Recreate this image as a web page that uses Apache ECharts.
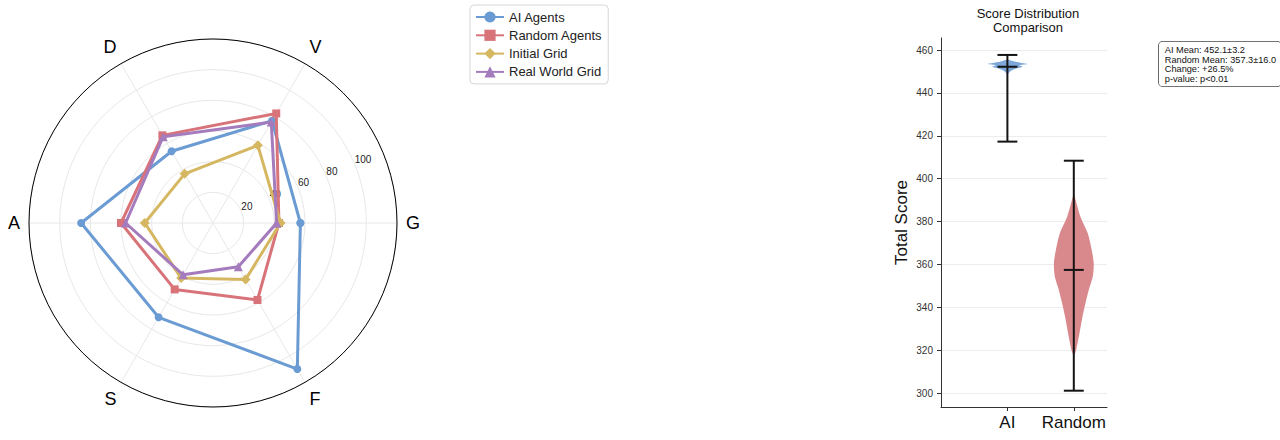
<!DOCTYPE html>
<html>
<head>
<meta charset="utf-8">
<script src="https://cdn.jsdelivr.net/npm/echarts@6/dist/echarts.min.js"></script>
<style>
  html, body { margin: 0; padding: 0; background: #fff; }
  #chart { width: 1280px; height: 440px; }
</style>
</head>
<body>
<div id="chart"></div>
<script>
// ---------------- Data ----------------
const radarCategories = ['G', 'V', 'D', 'A', 'S', 'F'];
const aiAgents      = [57, 77, 54, 86, 71, 110];
const randomAgents  = [43, 82.5, 66, 60, 50, 58];
const initialGrid   = [44, 58.5, 37, 44.5, 41.5, 42.5];
const realWorldGrid = [41.5, 76, 65, 57, 39, 33];
const radialTickLabels = [20, 40, 60, 80, 100];

const violinCategories = ['AI', 'Random'];
const violinPositions  = [1, 2];
const violinMin  = [417.3, 301.2];
const violinMax  = [457.7, 408.4];
const violinMean = [452.2, 357.5];

const aiDensityScores    = [455.7, 454.9, 454.1, 453.5, 452.9, 452.2, 451.3, 450.4, 449.1, 448.3];
const aiDensityHalfWidth = [0, 0.075, 0.196, 0.30, 0.176, 0.226, 0.125, 0.06, 0.015, 0];
const randomDensityScores    = [393.2, 382.3, 374.6, 366.8, 360.6, 354.4, 348.2, 342.0, 335.7, 328.0, 320.2, 317.1];
const randomDensityHalfWidth = [0, 0.10, 0.21, 0.27, 0.30, 0.286, 0.226, 0.176, 0.131, 0.086, 0.035, 0];

const scoreTicks = [300, 320, 340, 360, 380, 400, 420, 440, 460];

const annotationLines = [
  'AI Mean: 452.1±3.2',
  'Random Mean: 357.3±16.0',
  'Change: +26.5%',
  'p-value: p<0.01'
];

// ---------------- Styles ----------------
const FONT = "'Liberation Sans', Arial, Helvetica, sans-serif";
const seriesColors = ['#6a9bd3', '#d8737a', '#d6b761', '#a47bbd'];
const seriesSymbols = ['circle', 'rect', 'diamond', 'triangle'];
const violinColors = ['#7ea7d9', '#d9888c'];

const radarSeriesDefs = [
  { name: 'AI Agents', values: aiAgents },
  { name: 'Random Agents', values: randomAgents },
  { name: 'Initial Grid', values: initialGrid },
  { name: 'Real World Grid', values: realWorldGrid }
];

const step = 360 / radarCategories.length;
function toPolar(values) {
  const pts = values.map((v, i) => [v, i * step]);
  pts.push([values[0], 360]);
  return pts;
}

const radarSeries = radarSeriesDefs.map((d, k) => ({
  name: d.name,
  type: 'line',
  coordinateSystem: 'polar',
  polarIndex: 0,
  data: toPolar(d.values),
  symbol: seriesSymbols[k],
  symbolSize: seriesSymbols[k] === 'diamond' ? 10 : (seriesSymbols[k] === 'triangle' ? 9 : 8),
  lineStyle: { color: seriesColors[k], width: 3 },
  itemStyle: { color: seriesColors[k] },
  z: 3 + k,
  animation: false
}));

const densityScores = [aiDensityScores, randomDensityScores];
const densityHalf = [aiDensityHalfWidth, randomDensityHalfWidth];

const violinSeries = {
  type: 'custom',
  xAxisIndex: 0,
  yAxisIndex: 0,
  data: violinPositions.map((p, i) => [p, violinMean[i]]),
  renderItem: function (params, api) {
    const i = params.dataIndex;
    const pos = violinPositions[i];
    const ys = densityScores[i];
    const hw = densityHalf[i];
    const right = ys.map((y, k) => api.coord([pos + hw[k], y]));
    const left = ys.map((y, k) => api.coord([pos - hw[k], y])).reverse();
    return {
      type: 'polygon',
      shape: { points: right.concat(left), smooth: 0.25 },
      style: { fill: violinColors[i], stroke: 'none' }
    };
  },
  z: 2,
  animation: false
};

const capHalf = 0.15;
const whiskerSeries = {
  type: 'custom',
  xAxisIndex: 0,
  yAxisIndex: 0,
  data: violinPositions.map((p, i) => [p, violinMean[i]]),
  renderItem: function (params, api) {
    const i = params.dataIndex;
    const pos = violinPositions[i];
    const st = { stroke: '#141414', lineWidth: 2 };
    const seg = (x1, y1, x2, y2) => {
      const a = api.coord([x1, y1]), b = api.coord([x2, y2]);
      return { type: 'line', shape: { x1: a[0], y1: a[1], x2: b[0], y2: b[1] }, style: st };
    };
    return {
      type: 'group',
      children: [
        seg(pos, violinMin[i], pos, violinMax[i]),
        seg(pos - capHalf, violinMin[i], pos + capHalf, violinMin[i]),
        seg(pos - capHalf, violinMax[i], pos + capHalf, violinMax[i]),
        seg(pos - capHalf, violinMean[i], pos + capHalf, violinMean[i])
      ]
    };
  },
  z: 3,
  animation: false
};

const chart = echarts.init(document.getElementById('chart'), null, { renderer: 'svg' });

const option = {
  animation: false,
  backgroundColor: '#ffffff',
  textStyle: { fontFamily: FONT },
  title: {
    text: 'Score Distribution\nComparison',
    left: 1023,
    top: 1,
    textAlign: 'center',
    textStyle: { fontFamily: FONT, fontSize: 13, fontWeight: 'normal', color: '#111', lineHeight: 14 }
  },
  legend: {
    orient: 'vertical',
    left: 470,
    top: 5,
    data: radarSeriesDefs.map(d => d.name),
    itemWidth: 28,
    itemHeight: 14,
    itemGap: 5.3,
    itemTextGap: 10,
    padding: [5.5, 6, 5.5, 5],
    borderColor: '#d6d6d6',
    borderWidth: 1,
    borderRadius: 4,
    backgroundColor: '#fff',
    textStyle: { fontFamily: FONT, fontSize: 13, color: '#222' }
  },
  polar: [
    { center: [213, 223], radius: 184 },
    { center: [213, 223], radius: 184 }
  ],
  angleAxis: [
    {
      polarIndex: 0,
      type: 'value',
      min: 0, max: 360, interval: 60,
      startAngle: 0,
      clockwise: false,
      axisLine: { show: true, lineStyle: { color: '#000', width: 1 } },
      axisTick: { show: false },
      axisLabel: {
        margin: 9,
        fontSize: 18,
        color: '#000',
        fontFamily: FONT,
        formatter: v => (v < 360 ? (radarCategories[Math.round(v / step)] || '') : '')
      },
      splitLine: { show: true, lineStyle: { color: '#e8e8e8', width: 1 } },
      z: 1
    },
    {
      polarIndex: 1,
      type: 'value',
      min: 0, max: 360,
      startAngle: 22.5,
      clockwise: false,
      axisLine: { show: false },
      axisTick: { show: false },
      axisLabel: { show: false },
      splitLine: { show: false }
    }
  ],
  radiusAxis: [
    {
      polarIndex: 0,
      type: 'value',
      min: 0, max: 120, interval: 20,
      axisLine: { show: false },
      axisTick: { show: false },
      axisLabel: { show: false },
      splitLine: { show: true, lineStyle: { color: '#e8e8e8', width: 1 } },
      z: 0
    },
    {
      polarIndex: 1,
      type: 'value',
      min: 0, max: 120, interval: 20,
      axisLine: { show: false },
      axisTick: { show: false },
      splitLine: { show: false },
      axisLabel: {
        margin: 0,
        align: 'left',
        verticalAlign: 'bottom',
        fontSize: 10,
        color: '#222',
        fontFamily: FONT,
        formatter: v => (radialTickLabels.indexOf(v) >= 0 ? String(v) : '')
      }
    }
  ],
  grid: { left: 941, top: 38, width: 166, height: 369, containLabel: false },
  xAxis: {
    type: 'value',
    min: 0, max: 2.5,
    axisLine: { show: true, lineStyle: { color: '#333', width: 1 } },
    axisTick: { show: true, length: 4, lineStyle: { color: '#333' }, customValues: violinPositions },
    axisLabel: {
      customValues: violinPositions,
      margin: 7,
      fontSize: 17,
      color: '#111',
      fontFamily: FONT,
      formatter: v => violinCategories[violinPositions.indexOf(v)] || ''
    },
    splitLine: { show: false }
  },
  yAxis: {
    type: 'value',
    min: 293.6, max: 465.6,
    name: 'Total Score',
    nameLocation: 'middle',
    nameGap: 31,
    nameTextStyle: { fontFamily: FONT, fontSize: 17, color: '#111' },
    axisLine: { show: true, lineStyle: { color: '#333', width: 1 } },
    axisTick: { show: true, length: 4, lineStyle: { color: '#333' }, customValues: scoreTicks },
    axisLabel: { customValues: scoreTicks, margin: 8, fontSize: 10, color: '#333', fontFamily: FONT },
    splitLine: { show: true, customValues: scoreTicks, lineStyle: { color: '#ededed', width: 1 } }
  },
  graphic: [
    {
      type: 'text',
      left: 1158,
      top: 41,
      z: 10,
      style: {
        text: annotationLines.join('\n'),
        fontFamily: FONT,
        fontSize: 9.2,
        lineHeight: 9.6,
        fill: '#111',
        backgroundColor: '#fff',
        borderColor: '#444',
        borderWidth: 0.8,
        borderRadius: 4,
        padding: [3.5, 5, 2.5, 6]
      }
    }
  ],
  series: radarSeries.concat([violinSeries, whiskerSeries])
};

chart.setOption(option);
</script>
</body>
</html>
